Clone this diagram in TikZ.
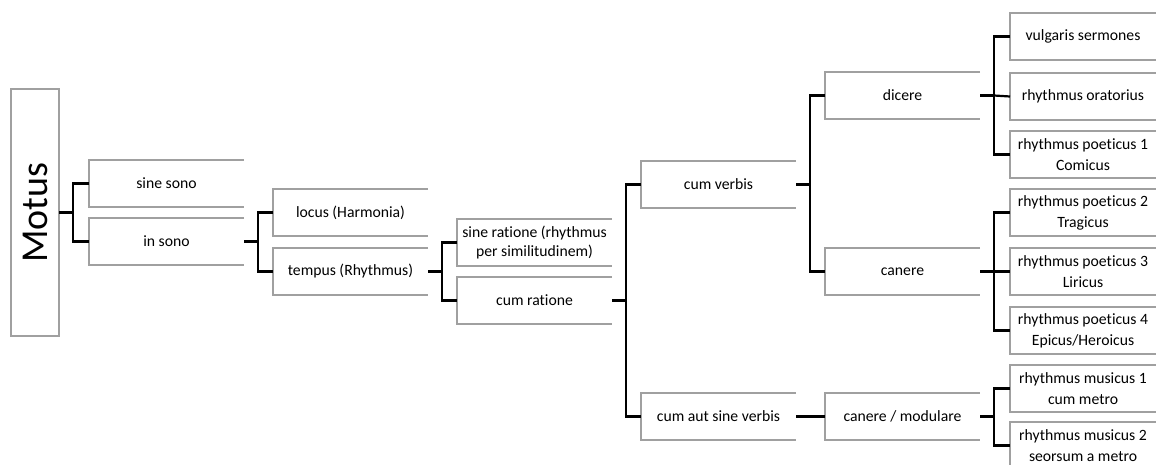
\documentclass[tikz,border=0pt]{standalone}
\usepackage{fontspec}
\newfontfamily\carl[Ligatures=NoCommon]{Carlito}
\definecolor{boxgray}{HTML}{A0A0A0}
\begin{document}
\begin{tikzpicture}[x=1pt,y=-1pt,
  box/.style={draw=none, minimum width=155pt, minimum height=47pt, inner sep=0pt, outer sep=0pt, anchor=north west, align=center, font=\carl\fontsize{15.7}{19}\selectfont},
  leaf/.style={box, minimum width=146pt, font=\carl\fontsize{15.7}{21}\selectfont},
  border/.style={draw=boxgray, line width=1.4pt},
  conn/.style={draw=black, line width=2.2pt}]
\useasboundingbox (0,0) rectangle (1156,464);

\node[draw=boxgray, line width=1.4pt, minimum width=48pt, minimum height=247pt, inner sep=0pt, outer sep=0pt] (motus) at (35,212.5) {\rotatebox{90}{\carl\fontsize{38}{38}\selectfont Motus}};

\node[box] (sine) at (89,160) {sine sono};
\node[box] (insono) at (89,218) {in sono};
\node[box] (locus) at (273,189) {locus (Harmonia)};
\node[box] (tempus) at (273,248) {tempus (Rhythmus)};
\node[box] (sinerat) at (457,219) {sine ratione (rhythmus\\per similitudinem)};
\node[box] (cumrat) at (457,277) {cum ratione};
\node[box] (cumverb) at (641,161) {cum verbis};
\node[box] (cumaut) at (641,393) {cum aut sine verbis};
\node[box] (dicere) at (825,72) {dicere};
\node[box] (canere) at (825,248) {canere};
\node[box] (canmod) at (825,393) {canere / modulare};

\node[leaf] (vulg) at (1010,13) {vulgaris sermones};
\node[leaf] (orat) at (1010,73) {rhythmus oratorius};
\node[leaf] (poe1) at (1010,131) {rhythmus poeticus 1\\Comicus};
\node[leaf] (poe2) at (1010,189) {rhythmus poeticus 2\\Tragicus};
\node[leaf] (poe3) at (1010,248) {rhythmus poeticus 3\\Liricus};
\node[leaf] (poe4) at (1010,307) {rhythmus poeticus 4\\Epicus/Heroicus};
\node[leaf] (mus1) at (1010,365) {rhythmus musicus 1\\cum metro};
\node[leaf] (mus2) at (1010,422) {rhythmus musicus 2\\seorsum a metro};

\foreach \n in {sine,insono,locus,tempus,sinerat,cumrat,cumverb,cumaut,dicere,canere,canmod,vulg,orat,poe1,poe2,poe3,poe4,mus1,mus2}
  \draw[border] (\n.north east) -- (\n.north west) -- (\n.south west) -- (\n.south east);

\draw[conn] (motus.east) -- ++(14,0) coordinate (j0);
\draw[conn] (sine.west) -| (j0) |- (insono.west);
\draw[conn] (insono.east) -- ++(14,0) coordinate (j1);
\draw[conn] (locus.west) -| (j1) |- (tempus.west);
\draw[conn] (tempus.east) -- ++(14,0) coordinate (j2);
\draw[conn] (sinerat.west) -| (j2) |- (cumrat.west);
\draw[conn] (cumrat.east) -- ++(14,0) coordinate (j3);
\draw[conn] (cumverb.west) -| (j3) |- (cumaut.west);
\draw[conn] (cumverb.east) -- ++(14,0) coordinate (j4);
\draw[conn] (dicere.west) -| (j4) |- (canere.west);
\draw[conn] (dicere.east) -- ++(14,0) coordinate (j5);
\draw[conn] (vulg.west) -| (j5) |- (poe1.west);
\draw[conn] (j5) -- (orat.west);
\draw[conn] (canere.east) -- ++(14,0) coordinate (j6);
\draw[conn] (poe2.west) -| (j6) |- (poe4.west);
\draw[conn] (j6) -- (poe3.west);
\draw[conn] (cumaut.east) -- (canmod.west);
\draw[conn] (canmod.east) -- ++(14,0) coordinate (j7);
\draw[conn] (mus1.west) -| (j7) |- (mus2.west);
\end{tikzpicture}
\end{document}
